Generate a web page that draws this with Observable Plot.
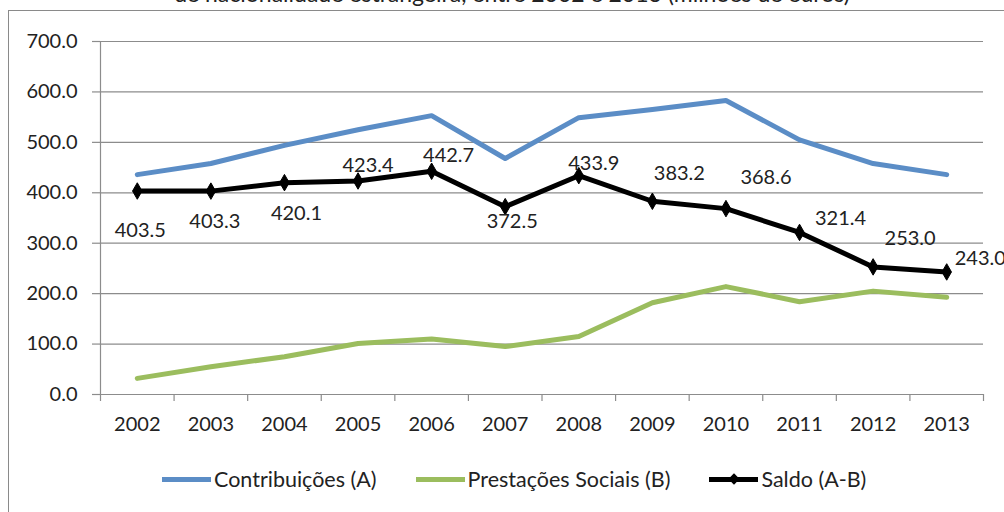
<!DOCTYPE html>
<html>
<head>
<meta charset="utf-8">
<script src="https://cdn.jsdelivr.net/npm/d3@7"></script>
<script src="https://cdn.jsdelivr.net/npm/@observablehq/plot@0.6"></script>
<style>
  html, body { margin: 0; padding: 0; background: #fff; overflow: hidden; }
  #wrap { position: relative; width: 1004px; height: 512px; overflow: hidden; font-family: Lato, "Open Sans", sans-serif; color: #222; }
  #title { position: absolute; left: 0; width: 1024px; top: -21px; text-align: center; font-size: 23px; color: #222; white-space: nowrap; }
  #box { position: absolute; left: 8px; top: 10px; width: 1100px; height: 600px; border: 1px solid #8a8a8a; box-sizing: border-box; }
  #chart { position: absolute; left: 0; top: 0; }
  #legend { position: absolute; left: 162px; top: 466px; display: flex; align-items: center; font-size: 21.5px; white-space: nowrap; }
  .item { display: flex; align-items: center; }
  .sw { position: relative; width: 49px; height: 5px; margin-right: 3px; }
  .dia { position: absolute; left: 21px; top: -2px; width: 8px; height: 8px; background: #000; transform: rotate(45deg); }
</style>
</head>
<body>
<div id="wrap">
  <div id="title">de nacionalidade estrangeira, entre 2002 e 2013 (milhões de euros)</div>
  <div id="box"></div>
  <div id="chart"></div>
  <div id="legend"></div>
</div>
<script>
// ---- data ----
const years = [2002, 2003, 2004, 2005, 2006, 2007, 2008, 2009, 2010, 2011, 2012, 2013];
const contribuicoes = [436, 458, 494, 525, 553, 468, 549, 565, 583, 505, 458, 436];
const prestacoes = [32, 55, 75, 101, 110, 95, 115, 182, 214, 184, 205, 193];
const saldo = [403.5, 403.3, 420.1, 423.4, 442.7, 372.5, 433.9, 383.2, 368.6, 321.4, 253.0, 243.0];
const yTicks = [0, 100, 200, 300, 400, 500, 600, 700];
const seriesNames = ["Contribuições (A)", "Prestações Sociais (B)", "Saldo (A-B)"];

// ---- layout (label nudges in px, not data) ----
const labelDx = [3, 4, 12, 10, 17, 7, 15, 27, 40, 41, 37, 8];
const labelDy = [40, 30, 31, -15, -16, 15, -12, -28, -31, -14, -28, -13];
const colors = ["#5b8dc6", "#9bbd5e", "#000000"];

const rows = years.map((y, i) => ({year: y, a: contribuicoes[i], b: prestacoes[i], s: saldo[i], i}));
const boundaries = [...years.map(y => y - 0.5), years[years.length - 1] + 0.5];
const x0 = boundaries[0];

const grid = "#8c8c8c";

const labelMarks = rows.map(d => Plot.text([d], {
  x: "year", y: "s", text: r => r.s.toFixed(1),
  dx: labelDx[d.i], dy: labelDy[d.i],
  textAnchor: d.i === rows.length - 1 ? "start" : "middle",
  fill: "#222", fontSize: 20
}));

const chart = Plot.plot({
  width: 1004,
  height: 450,
  marginLeft: 100,
  marginRight: 21,
  marginTop: 41,
  marginBottom: 56,
  style: {fontFamily: "Lato, 'Open Sans', sans-serif", fontSize: "20px", color: "#222", background: "transparent", overflow: "visible"},
  x: {type: "linear", domain: [boundaries[0], boundaries[boundaries.length - 1]], ticks: years, tickFormat: d => String(d), tickSize: 0, tickPadding: 22, label: null},
  y: {domain: [0, 700], ticks: yTicks, tickFormat: d => d.toFixed(1), tickSize: 0, tickPadding: 23, label: null},
  marks: [
    Plot.ruleY(yTicks, {stroke: grid, strokeWidth: 1.2}),
    Plot.ruleY(yTicks, {x1: x0, x2: x0, insetLeft: -8, stroke: grid, strokeWidth: 1.2}),
    Plot.ruleX([x0], {stroke: grid, strokeWidth: 1.2}),
    Plot.ruleX(boundaries, {y1: 0, y2: 0, insetBottom: -7, stroke: grid, strokeWidth: 1.2}),
    Plot.line(rows, {x: "year", y: "a", stroke: colors[0], strokeWidth: 5}),
    Plot.line(rows, {x: "year", y: "b", stroke: colors[1], strokeWidth: 5}),
    Plot.line(rows, {x: "year", y: "s", stroke: colors[2], strokeWidth: 5}),
    Plot.dot(rows, {x: "year", y: "s", symbol: "diamond", r: 5, fill: "#000", stroke: "#000", strokeWidth: 1}),
    ...labelMarks
  ]
});
document.getElementById("chart").appendChild(chart);

// ---- legend ----
const legend = document.getElementById("legend");
const gaps = [0, 39, 39];
seriesNames.forEach((name, k) => {
  const item = document.createElement("div");
  item.className = "item";
  item.style.marginLeft = gaps[k] + "px";
  const sw = document.createElement("div");
  sw.className = "sw";
  sw.style.background = colors[k];
  if (k === 2) { const d = document.createElement("div"); d.className = "dia"; sw.appendChild(d); }
  const t = document.createElement("span");
  t.textContent = name;
  item.appendChild(sw);
  item.appendChild(t);
  legend.appendChild(item);
});
</script>
</body>
</html>
